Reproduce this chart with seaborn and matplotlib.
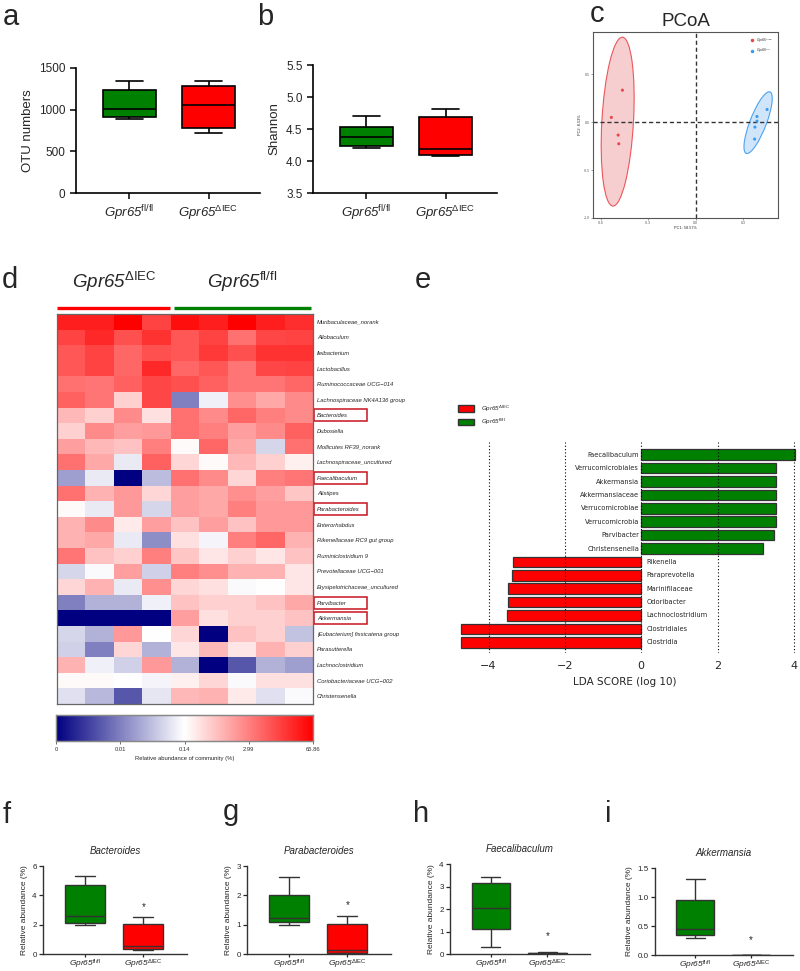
import numpy as np
import pandas as pd
import matplotlib
matplotlib.use("Agg")
import matplotlib.pyplot as plt
import matplotlib.transforms as mtransforms
from matplotlib.patches import Rectangle, Ellipse, Patch
from matplotlib.lines import Line2D
from matplotlib.colors import LinearSegmentedColormap
import seaborn as sns

sns.set_theme(style="ticks")
plt.rcParams['font.family'] = ['Liberation Sans', 'DejaVu Sans']
plt.rcParams['mathtext.fontset'] = 'custom'
plt.rcParams['mathtext.rm'] = 'Liberation Sans:italic'
plt.rcParams['mathtext.it'] = 'Liberation Sans:italic'
plt.rcParams['mathtext.sf'] = 'Liberation Sans'
plt.rcParams['mathtext.bf'] = 'Liberation Sans:bold'

# ----------------------------- data -----------------------------
FL = r'$\mathrm{Gpr65}^{\mathsf{fl/fl}}$'
DI = r'$\mathrm{Gpr65}^{\mathsf{ΔIEC}}$'
groups = [FL, DI]

otu_fl = [890, 910, 1010, 1235, 1340]
otu_di = [720, 785, 1050, 1285, 1340]
shannon_fl = [4.21, 4.23, 4.37, 4.53, 4.70]
shannon_di = [4.08, 4.09, 4.19, 4.68, 4.82]

pcoa_di_pc1 = [-0.464, -0.534, -0.491, -0.487]
pcoa_di_pc2 = [0.333, 0.049, -0.135, -0.226]
pcoa_fl_pc1 = [0.451, 0.387, 0.387, 0.374, 0.372]
pcoa_fl_pc2 = [0.132, 0.059, 0.010, -0.052, -0.177]
pc1_label = "PC1: 58.57%"
pc2_label = "PC2: 8.53%"

heat_taxa = ["Muribaculaceae_norank", "Allobaculum", "Ileibacterium", "Lactobacillus",
             "Ruminococcaceae UCG\u2212014", "Lachnospiraceae NK4A136 group", "Bacteroides",
             "Dubosiella", "Mollicutes RF39_norank", "Lachnospiraceae_uncultured",
             "Faecalibaculum", "Alistipes", "Parabacteroides", "Enterorhabdus",
             "Rikenellaceae RC9 gut group", "Ruminiclostridium 9", "Prevotellaceae UCG\u2212001",
             "Erysipelotrichaceae_uncultured", "Parvibacter", "Akkermansia",
             "[Eubacterium] fissicatena group", "Parasutterella", "Lachnoclostridium",
             "Coriobacteriaceae UCG\u2212002", "Christensenella"]
heat_samples = ["KO1", "KO2", "KO3", "KO4", "WT1", "WT2", "WT3", "WT4", "WT5"]
# colour-scale position (0 = lowest, 0.5 = 0.14 %, 1 = 65.86 %)
heat_values = [
    [0.94, 0.94, 1.00, 0.87, 0.97, 0.94, 1.00, 0.94, 0.91],
    [0.87, 0.92, 0.84, 0.90, 0.83, 0.87, 0.78, 0.86, 0.87],
    [0.83, 0.87, 0.80, 0.84, 0.83, 0.89, 0.84, 0.90, 0.90],
    [0.83, 0.87, 0.80, 0.92, 0.80, 0.83, 0.77, 0.86, 0.87],
    [0.78, 0.77, 0.81, 0.86, 0.84, 0.81, 0.77, 0.77, 0.80],
    [0.81, 0.77, 0.59, 0.86, 0.25, 0.47, 0.72, 0.67, 0.73],
    [0.64, 0.59, 0.73, 0.56, 0.78, 0.73, 0.80, 0.75, 0.73],
    [0.59, 0.73, 0.69, 0.70, 0.78, 0.75, 0.69, 0.73, 0.81],
    [0.69, 0.64, 0.62, 0.75, 0.51, 0.80, 0.67, 0.42, 0.78],
    [0.78, 0.67, 0.46, 0.81, 0.58, 0.51, 0.64, 0.59, 0.53],
    [0.31, 0.46, 0.00, 0.37, 0.78, 0.73, 0.58, 0.75, 0.77],
    [0.78, 0.65, 0.70, 0.58, 0.69, 0.67, 0.72, 0.69, 0.61],
    [0.51, 0.46, 0.70, 0.42, 0.69, 0.67, 0.75, 0.70, 0.70],
    [0.65, 0.73, 0.54, 0.69, 0.62, 0.69, 0.62, 0.70, 0.70],
    [0.65, 0.67, 0.46, 0.28, 0.56, 0.48, 0.75, 0.80, 0.65],
    [0.77, 0.62, 0.59, 0.75, 0.61, 0.55, 0.59, 0.55, 0.62],
    [0.42, 0.49, 0.69, 0.41, 0.75, 0.72, 0.65, 0.65, 0.55],
    [0.58, 0.65, 0.46, 0.72, 0.58, 0.56, 0.49, 0.50, 0.55],
    [0.25, 0.35, 0.35, 0.47, 0.62, 0.59, 0.59, 0.62, 0.67],
    [0.00, 0.00, 0.00, 0.00, 0.69, 0.56, 0.59, 0.59, 0.62],
    [0.42, 0.35, 0.70, 0.50, 0.58, 0.00, 0.62, 0.59, 0.38],
    [0.41, 0.25, 0.58, 0.35, 0.55, 0.64, 0.55, 0.65, 0.59],
    [0.65, 0.47, 0.41, 0.70, 0.35, 0.00, 0.17, 0.35, 0.31],
    [0.51, 0.51, 0.50, 0.48, 0.53, 0.58, 0.49, 0.56, 0.56],
    [0.44, 0.36, 0.17, 0.45, 0.64, 0.65, 0.54, 0.44, 0.49],
]
highlight_taxa = ["Bacteroides", "Faecalibaculum", "Parabacteroides", "Parvibacter", "Akkermansia"]
cbar_ticks = [0, 0.25, 0.5, 0.75, 1.0]
cbar_ticklabels = ["0", "0.01", "0.14", "2.99", "65.86"]

lda_taxa = ["Faecalibaculum", "Verrucomicrobiales", "Akkermansia", "Akkermansiaceae",
            "Verrucomicrobiae", "Verrucomicrobia", "Parvibacter", "Christensenella",
            "Rikenella", "Paraprevotella", "Marinifilaceae", "Odoribacter",
            "Lachnoclostridium", "Clostridiales", "Clostridia"]
lda_scores = [4.04, 3.52, 3.52, 3.52, 3.52, 3.52, 3.47, 3.19,
              -3.35, -3.38, -3.48, -3.50, -3.52, -4.72, -4.72]

bact_fl = [1.95, 2.10, 2.60, 4.72, 5.30]
bact_di = [0.28, 0.32, 0.52, 2.05, 2.52]
parab_fl = [1.00, 1.10, 1.22, 2.02, 2.63]
parab_di = [0.02, 0.03, 0.12, 1.02, 1.30]
faec_fl = [0.33, 1.10, 2.05, 3.15, 3.42]
faec_di = [0.01, 0.01, 0.03, 0.06, 0.07]
akk_fl = [0.30, 0.35, 0.45, 0.95, 1.31]
akk_di = [0.0, 0.0, 0.0, 0.0, 0.0]

GREEN = "#008000"
RED = "#FF0000"

# ----------------------------- figure -----------------------------
W, H = 800, 971
fig = plt.figure(figsize=(W / 100, H / 100), dpi=100)
fig.patch.set_facecolor("white")


def add_ax(x0, y0, x1, y1):
    return fig.add_axes([x0 / W, 1 - y1 / H, (x1 - x0) / W, (y1 - y0) / H])


def ftext(x, y, s, **kw):
    return fig.text(x / W, 1 - y / H, s, **kw)


def box_panel(ax, fl, di, width, lw, ec):
    df = pd.DataFrame({"group": [FL] * len(fl) + [DI] * len(di), "value": list(fl) + list(di)})
    sns.boxplot(data=df, x="group", y="value", hue="group", order=groups, hue_order=groups,
                palette=[GREEN, RED], whis=(0, 100), width=width, linewidth=lw,
                linecolor=ec, saturation=1, fliersize=0, legend=False, ax=ax)
    for art in ax.patches:
        art.set_edgecolor(ec)
    ax.set_xlabel("")
    sns.despine(ax=ax)


# ---- panel letters
for letter, x, y in [("a", 3, 25), ("b", 257, 25), ("c", 590, 22), ("d", 2, 288),
                     ("e", 415, 288), ("f", 3, 823), ("g", 223, 820), ("h", 413, 822),
                     ("i", 605, 822)]:
    ftext(x, y, letter, fontsize=21, va="baseline", ha="left")

# ---- a
axa = add_ax(76, 68, 260, 193)
box_panel(axa, otu_fl, otu_di, 0.675, 1.2, "black")
axa.set_ylim(0, 1500)
axa.set_yticks([0, 500, 1000, 1500])
axa.set_xlim(-0.675, 1.65)
axa.set_ylabel("OTU numbers", fontsize=9.5)
axa.tick_params(axis="y", labelsize=8.5, width=1.1, length=4, color="black")
axa.tick_params(axis="x", labelsize=9.5, width=1.1, length=4, color="black")
for s in axa.spines.values():
    s.set_linewidth(1.2); s.set_color("black")

# ---- b
axb = add_ax(313, 65, 497, 193)
box_panel(axb, shannon_fl, shannon_di, 0.675, 1.2, "black")
axb.set_ylim(3.5, 5.5)
axb.set_yticks([3.5, 4.0, 4.5, 5.0, 5.5])
axb.set_yticklabels(["3.5", "4.0", "4.5", "5.0", "5.5"])
axb.set_xlim(-0.675, 1.65)
axb.set_ylabel("Shannon", fontsize=9.5)
axb.tick_params(axis="y", labelsize=8.5, width=1.1, length=4, color="black")
axb.tick_params(axis="x", labelsize=9.5, width=1.1, length=4, color="black")
for s in axb.spines.values():
    s.set_linewidth(1.2); s.set_color("black")

# ---- c  PCoA
axc = add_ax(593, 32, 778, 218)
pc_df = pd.DataFrame({"PC1": pcoa_di_pc1 + pcoa_fl_pc1,
                      "PC2": pcoa_di_pc2 + pcoa_fl_pc2,
                      "group": [DI] * len(pcoa_di_pc1) + [FL] * len(pcoa_fl_pc1)})
pal_c = {DI: "#E8474C", FL: "#3B9BF0"}
fill_c = {DI: "#F7C9CB", FL: "#CBE3FA"}
rad_c = {DI: 3.57, FL: 2.75}
for g in [DI, FL]:
    sub = pc_df[pc_df.group == g][["PC1", "PC2"]].to_numpy()
    cov = np.cov(sub.T)
    vals, vecs = np.linalg.eigh(cov)
    order = vals.argsort()[::-1]
    vals, vecs = vals[order], vecs[:, order]
    ang = np.degrees(np.arctan2(vecs[1, 0], vecs[0, 0]))
    k = rad_c[g]
    e = Ellipse(sub.mean(axis=0), 2 * k * np.sqrt(vals[0]), 2 * k * np.sqrt(vals[1]),
                angle=ang, facecolor=fill_c[g], edgecolor=pal_c[g], lw=0.8, alpha=0.9, zorder=1)
    axc.add_patch(e)
axc.axvline(0, color="#333333", ls=(0, (3, 2)), lw=1.0, zorder=2)
axc.axhline(0, color="#333333", ls=(0, (3, 2)), lw=1.0, zorder=2)
sns.scatterplot(data=pc_df, x="PC1", y="PC2", hue="group", palette=pal_c, s=5,
                edgecolor="none", legend=False, ax=axc, zorder=3)
axc.set_xlim(-0.65, 0.52)
axc.set_ylim(-1.0, 0.94)
axc.set_xticks([-0.6, -0.3, 0.0, 0.3])
axc.set_yticks([-1.0, -0.5, 0.0, 0.5])
axc.set_xticklabels(["-0.6", "-0.3", "0.0", "0.3"])
axc.set_yticklabels(["-1.0", "-0.5", "0.0", "0.5"])
axc.tick_params(labelsize=2.5, length=1.2, width=0.4, pad=1, colors="#555555")
axc.set_xlabel(pc1_label, fontsize=2.8, labelpad=1)
axc.set_ylabel(pc2_label, fontsize=2.8, labelpad=1)
for s in axc.spines.values():
    s.set_visible(True); s.set_color("#555555"); s.set_linewidth(0.8)
axc.set_title("PCoA", fontsize=13.5, pad=4)
hc = [Line2D([], [], marker="o", ls="", color=pal_c[DI], markersize=1.5, label=DI),
      Line2D([], [], marker="o", ls="", color=pal_c[FL], markersize=1.5, label=FL)]
axc.legend(handles=hc, loc="upper right", fontsize=2.5, frameon=False, handletextpad=0.3,
           borderaxespad=0.8, labelspacing=0.6)

# ---- d heatmap
axd = add_ax(57, 314, 313, 704)
axcb = add_ax(56, 715, 313, 741)
hm = pd.DataFrame(heat_values, index=heat_taxa, columns=heat_samples)
cmap = LinearSegmentedColormap.from_list("navy_white_red", ["#000080", "#FFFFFF", "#FF0000"])
sns.heatmap(hm, ax=axd, cmap=cmap, vmin=0, vmax=1, cbar=True, cbar_ax=axcb,
            cbar_kws={"orientation": "horizontal", "ticks": cbar_ticks},
            xticklabels=False, yticklabels=True)
axd.set_ylabel(""); axd.set_xlabel("")
axd.yaxis.tick_right()
axd.tick_params(axis="y", length=0, labelsize=4.2, pad=3, labelright=True, labelleft=False)
for t in axd.get_yticklabels():
    t.set_fontstyle("italic"); t.set_rotation(0)
for s in axd.spines.values():
    s.set_visible(True); s.set_color("#666666"); s.set_linewidth(0.9)
axcb.set_xticklabels(cbar_ticklabels)
axcb.tick_params(axis="x", labelsize=4.2, length=2, width=0.5, pad=2, colors="#333333")
axcb.set_xlabel("Relative abundance of community (%)", fontsize=4.2, labelpad=3)
for s in axcb.spines.values():
    s.set_visible(True); s.set_color("#888888"); s.set_linewidth(0.9)
cb = axd.collections[0].colorbar
cb.outline.set_edgecolor("#888888"); cb.outline.set_linewidth(0.9)

blend = mtransforms.blended_transform_factory(axd.transAxes, axd.transData)
for tname in highlight_taxa:
    i = heat_taxa.index(tname)
    axd.add_patch(Rectangle((1.004, i + 0.12), 0.207, 0.76, transform=blend, fill=False,
                            edgecolor="#C8141E", lw=1.1, clip_on=False))
blend2 = mtransforms.blended_transform_factory(axd.transData, axd.transAxes)
n_di = sum(1 for s in heat_samples if s.startswith("KO"))
n_all = len(heat_samples)
axd.plot([0, n_di - 0.02], [1.016, 1.016], transform=blend2, color=RED, lw=2.4,
         clip_on=False, solid_capstyle="butt")
axd.plot([n_di + 0.1, n_all - 0.06], [1.016, 1.016], transform=blend2, color=GREEN, lw=2.4,
         clip_on=False, solid_capstyle="butt")
axd.text(n_di / 2, 1.066, DI, transform=blend2, ha="center", va="baseline", fontsize=13.5)
axd.text((n_di + n_all) / 2, 1.066, FL, transform=blend2, ha="center", va="baseline",
         fontsize=13.5)

# ---- e LDA
axe = add_ax(453, 442, 797, 653)
lda_df = pd.DataFrame({"taxon": lda_taxa, "score": lda_scores,
                       "group": [FL if v > 0 else DI for v in lda_scores]})
sns.barplot(data=lda_df, x="score", y="taxon", hue="group", palette={FL: GREEN, DI: RED},
            orient="h", dodge=False, width=0.8, edgecolor="#333333", linewidth=0.9,
            saturation=1, legend=False, ax=axe, zorder=2)
axe.set_xlim(-4.93, 4.08)
axe.set_ylim(14.8, -0.95)
for xv in [-4, -2, 0, 2, 4]:
    axe.axvline(xv, color="black", ls=(0, (1, 2)), lw=0.8, zorder=3)
for i, (tx, sc) in enumerate(zip(lda_taxa, lda_scores)):
    if sc > 0:
        axe.text(-0.05, i, tx, ha="right", va="center", fontsize=4.8, family="DejaVu Sans")
    else:
        axe.text(0.14, i, tx, ha="left", va="center", fontsize=4.8, family="DejaVu Sans")
axe.set_yticks([])
axe.set_ylabel("")
axe.set_xticks([-4, -2, 0, 2, 4])
axe.set_xticklabels(["\u22124", "\u22122", "0", "2", "4"], family="DejaVu Sans")
axe.tick_params(axis="x", labelsize=8, length=0, pad=6)
axe.set_xlabel("LDA SCORE (log 10)", fontsize=7.5, family="DejaVu Sans", labelpad=4)
for s in axe.spines.values():
    s.set_visible(False)
he = [Patch(facecolor=RED, edgecolor="#333333", label=DI),
      Patch(facecolor=GREEN, edgecolor="#333333", label=FL)]
axe.legend(handles=he, loc="upper left", bbox_to_anchor=(452 / W, 1 - 398 / H),
           bbox_transform=fig.transFigure, fontsize=4.5, frameon=False,
           handlelength=2.6, handleheight=1.3, labelspacing=0.5, handletextpad=1.2)

# ---- f-i
small = [
    ("Bacteroides", bact_fl, bact_di, (43, 866, 187, 954), (0, 6), [0, 2, 4, 6], ["0", "2", "4", "6"], 3.2),
    ("Parabacteroides", parab_fl, parab_di, (247, 866, 391, 954), (0, 3), [0, 1, 2, 3], ["0", "1", "2", "3"], 1.67),
    ("Faecalibaculum", faec_fl, faec_di, (450, 864, 590, 954), (0, 4), [0, 1, 2, 3, 4], ["0", "1", "2", "3", "4"], 0.79),
    ("Akkermansia", akk_fl, akk_di, (655, 868, 793, 955), (0, 1.5), [0, 0.5, 1.0, 1.5], ["0.0", "0.5", "1.0", "1.5"], 0.26),
]
for title, fl, di, box, ylim, yt, ytl, star in small:
    ax = add_ax(*box)
    box_panel(ax, fl, di, 0.68, 1.0, "#333333")
    ax.set_ylim(*ylim)
    ax.set_yticks(yt)
    ax.set_yticklabels(ytl)
    ax.set_xlim(-0.72, 1.75)
    ax.set_title(title, fontsize=7, style="italic", pad=9)
    ax.set_ylabel("Relative abundance (%)", fontsize=6, labelpad=3)
    ax.tick_params(axis="y", labelsize=5.8, length=3, width=0.9, pad=1.5)
    ax.tick_params(axis="x", labelsize=6, length=2.5, width=0.9, pad=0.5)
    for s in ax.spines.values():
        s.set_linewidth(1.0); s.set_color("#333333")
    ax.text(1, star, "*", ha="center", va="center", fontsize=7)

fig.savefig("out.png", dpi=100, facecolor="white")
